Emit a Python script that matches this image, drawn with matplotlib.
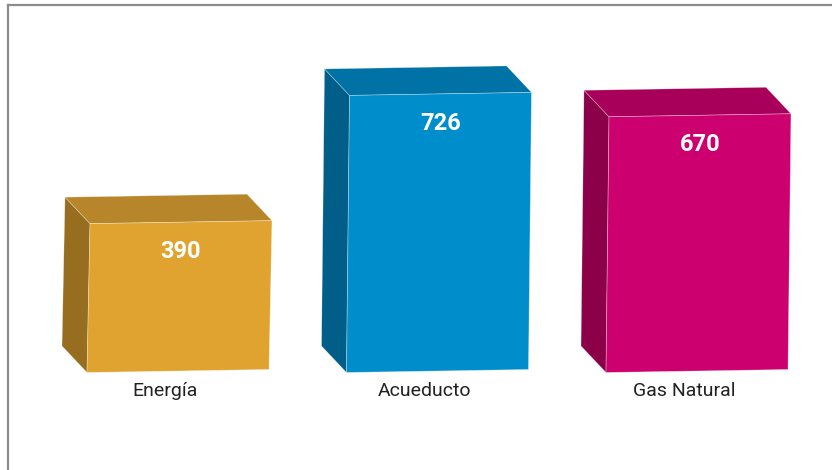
import matplotlib
matplotlib.use("Agg")
import matplotlib.pyplot as plt
from matplotlib.patches import Polygon
from matplotlib.lines import Line2D

categories = ["Energía", "Acueducto", "Gas Natural"]
values = [390, 726, 670]
front_colors = ["#E0A32F", "#008DCB", "#CC006F"]
top_colors = ["#B8862A", "#0072A5", "#A8005A"]
side_colors = ["#976D1F", "#005E89", "#8B0048"]

# pixel -> data conversions (figure is 832x470 px)
PX_Y = 2.62          # value units per pixel
PX_X = 1 / 259.5     # category units per pixel
BAR_W = 182 * PX_X
DEPTH_X = -25 * PX_X
DEPTH_Y = 26.5 * PX_Y
RISE = 3 * PX_Y      # slight tilt of front face
LEAN = 3 * PX_X

fig = plt.figure(figsize=(8.32, 4.70), dpi=100)
ax = fig.add_axes([0, 0, 1, 1])
ax.set_xlim(-178 * PX_X, (832 - 178) * PX_X)
ax.set_ylim(-97.5 * PX_Y, (470 - 97.5) * PX_Y)
ax.axis("off")

edge = (1, 1, 1, 0.45)

for i, (cat, v) in enumerate(zip(categories, values)):
    c = i
    bl = (c - BAR_W / 2, 0)
    br = (c + BAR_W / 2, RISE)
    tr = (c + BAR_W / 2 + LEAN, v + RISE)
    tl = (c - BAR_W / 2 + LEAN, v)

    def back(p):
        return (p[0] + DEPTH_X, p[1] + DEPTH_Y)

    side = [tl, back(tl), back(bl), bl]
    top = [tl, back(tl), back(tr), tr]
    front = [bl, br, tr, tl]
    ax.add_patch(Polygon(side, closed=True, facecolor=side_colors[i],
                         edgecolor=edge, linewidth=0.4))
    ax.add_patch(Polygon(top, closed=True, facecolor=top_colors[i],
                         edgecolor=edge, linewidth=0.4))
    ax.add_patch(Polygon(front, closed=True, facecolor=front_colors[i],
                         edgecolor=edge, linewidth=0.5))

    ax.text(c + LEAN, v - 28 * PX_Y, str(v), color="white", fontsize=17,
            fontweight="bold", family="Roboto", ha="center", va="center")
    ax.text(c + DEPTH_X / 2, -18 * PX_Y, cat, color="#222222", fontsize=14,
            family="Roboto", ha="center", va="center")

# frame lines on top and left
fig.add_artist(Line2D([8 / 832, 1], [1 - 5 / 470, 1 - 5 / 470],
                      transform=fig.transFigure, color="#8c8c8c", linewidth=1.6))
fig.add_artist(Line2D([8 / 832, 8 / 832], [0, 1 - 5 / 470],
                      transform=fig.transFigure, color="#8c8c8c", linewidth=1.6))

fig.savefig("out.png", dpi=100)
